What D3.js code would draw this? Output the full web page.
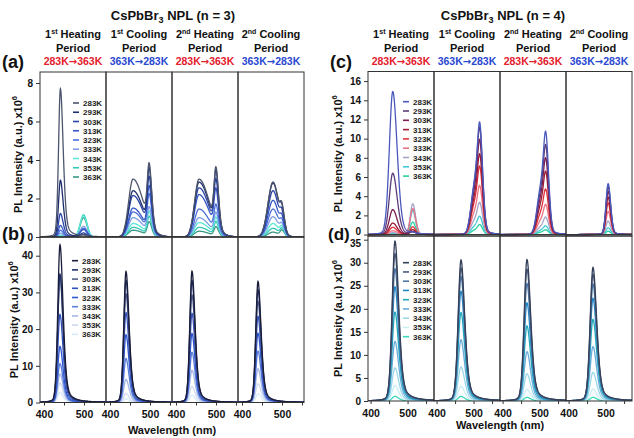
<!DOCTYPE html>
<html><head><meta charset="utf-8">
<script src="https://cdn.jsdelivr.net/npm/d3@7/dist/d3.min.js"></script>
<style>
body{margin:0;background:#fff}
svg{display:block}
text{font-family:"Liberation Sans",Arial,Helvetica,sans-serif;font-weight:bold;fill:#111}
</style></head>
<body><svg width="634" height="438"></svg>
<script>
// ---------- data ----------
const temps = ["283K","293K","303K","313K","323K","333K","343K","353K","363K"];
const periodNum = ["1","1","2","2"];
const periodSup = ["st","st","nd","nd"];
const periodName = [" Heating"," Cooling"," Heating"," Cooling"];
const rangeFrom = ["283K","363K","283K","363K"];
const rangeTo   = ["363K","283K","363K","283K"];
const xTickValues = [400,450,500,550];
const xTickLabels = [400,500];
const yTicksA = [0,2,4,6,8];
const yTicksB = [0,10,20,30,40];
const yTicksC = [0,2,4,6,8,10,12,14,16];
const yTicksD = [0,5,10,15,20,25,30,35];

// peak amplitudes (x10^6) per temperature
// (a) n=3, top row
const a1Main  = [7.7,2.95,1.22,0.6,0.35,0.2,0.1,0.06,0.03];   // ~441 nm
const a1Side  = [0.05,0.1,0.2,0.38,0.45,0.55,1.1,1.15,1.0];   // ~499 nm
const a2Broad = [3.0,2.4,2.15,1.5,1.3,1.0,0.7,0.5,0.35];      // ~457 nm
const a2Sharp = [3.0,2.95,2.55,2.25,1.9,1.3,1.15,0.95,0.7];   // ~498 nm
const a3Broad = [3.0,2.85,2.55,2.2,1.45,1.0,0.75,0.5,0.3];
const a3Sharp = [2.9,2.8,2.4,2.0,1.35,1.05,0.85,0.68,0.47];
const a4Broad = [2.85,2.8,2.4,1.9,1.45,1.05,0.7,0.45,0.25];   // ~477 nm
const a4Sharp = [1.0,0.95,0.8,0.65,0.55,0.45,0.4,0.35,0.3];   // ~500 nm
// (b) n=3, bottom row, ~440 nm
const b1 = [43,35,34.5,24,15.3,10.6,7.8,5.3,2.8];
const b2 = [35.7,33.3,29.6,24.5,18.5,12,6.3,2.5,1.0];
const b3 = [35.8,33.3,29.3,24.3,18.8,13.7,8.8,4.4,2.0];
const b4 = [33,30.8,27.6,23.5,18.9,14,9.2,5.1,2.4];
// (c) n=4, top row
const c1Main = [14.9,6.4,2.6,1.2,0.75,0.4,0.2,0.1,0.05];      // ~460 nm
const c1Side = [0.1,0.2,0.3,0.5,0.8,2.7,3.2,2.5,1.3];         // ~514 nm
const c2Main = [11.0,10.5,9.3,7.9,6.7,4.8,3.15,1.8,0.98];     // ~517 nm
const c2Sh   = [4.6,4.4,3.9,3.3,2.8,2.0,1.3,0.75,0.4];        // ~502 nm
const c3Main = [10.1,8.8,7.5,6.2,4.45,2.95,1.72,0.85,0.47];
const c3Sh   = [4.2,3.7,3.2,2.6,1.9,1.25,0.7,0.38,0.2];
const c4Main = [5.3,5.0,4.5,3.9,3.3,2.4,1.4,0.7,0.35];        // ~507 nm
// (d) n=4, bottom row, ~466 nm
const dPk1 = [34.7,32,28.7,24.8,19.3,12.9,7.2,3.4,1.0];
const dPk2 = [30.6,28.9,27,23.8,19.2,13.3,7.4,3.2,1.0];
const dPk3 = [30.7,28.6,25.5,21.3,16.3,10.7,5.9,2.5,0.8];
const dPk4 = [29,27.5,25.4,22.3,17.7,11.8,6.2,2.6,0.8];

// peak components: centre and half widths (nm), Lorentz fraction left/right
const compsA = [
  [{c:441,wl:5.5,wr:8.3,el:0.15,er:0.4,amps:a1Main},{c:499,wl:10,wr:10,el:0,er:0,amps:a1Side}],
  [{c:457.5,wl:13,wr:30,el:0,er:0,amps:a2Broad},{c:498,wl:5.5,wr:7.4,el:0.1,er:0.2,amps:a2Sharp}],
  [{c:457.5,wl:13,wr:30,el:0,er:0,amps:a3Broad},{c:500,wl:5.5,wr:7.4,el:0.1,er:0.2,amps:a3Sharp}],
  [{c:477.5,wl:14.7,wr:16.5,el:0,er:0,amps:a4Broad},{c:500,wl:5.5,wr:7.4,el:0.1,er:0.2,amps:a4Sharp}]
];
const compsB = [b1,b2,b3,b4].map(a=>[{c:440,wl:6.5,wr:9.2,el:0.15,er:0.45,amps:a}]);
const compsC = [
  [{c:460,wl:11,wr:14,el:0.1,er:0.2,amps:c1Main},{c:514,wl:8,wr:9,el:0,er:0.1,amps:c1Side}],
  [{c:517,wl:8,wr:9,el:0.1,er:0.2,amps:c2Main},{c:502,wl:11,wr:9,el:0,er:0,amps:c2Sh}],
  [{c:517,wl:8,wr:9,el:0.1,er:0.2,amps:c3Main},{c:502,wl:11,wr:9,el:0,er:0,amps:c3Sh}],
  [{c:507,wl:7,wr:8,el:0.1,er:0.2,amps:c4Main}]
];
const compsD = [dPk1,dPk2,dPk3,dPk4].map(a=>[{c:466,wl:9,wr:12,el:0.15,er:0.45,amps:a}]);

const colA = ["#4d566e","#1f2f6e","#2a44a6","#3457c6","#4b70d8","#7f9de6","#5ce8d6","#34c6b6","#3a9886"];
const colB = ["#1a1d3a","#22306a","#525f86","#3050c0","#2e56d0","#5a7ed8","#a6b6e6","#cfdaf0","#d6eafb"];
const colC = ["#4a58bc","#5c3c78","#7c1c52","#9c1c34","#e0323a","#e87484","#a4a4c8","#44c8d8","#26d2a2"];
const colD = ["#35405a","#4a5a78","#4a78a8","#1f88c8","#22a8b8","#6aaad8","#9ad8e8","#c8eef4","#3ad8b8"];

// ---------- drawing ----------
function shape(l,p){
  const left = l < p.c, w = left ? p.wl : p.wr, e = left ? p.el : p.er;
  const x = (l-p.c)/w;
  return (1-e)*Math.exp(-Math.LN2*x*x) + e/(1+x*x);
}
const svg = d3.select("svg");
const colW = 66;
const figs = [
  {x0:40, n:"3", xd:[390,555], titleX:173, wlX:172, wlY:434, tickPad:5, rows:[
    {top:72,bottom:237,yd:[0,8.57],ticks:yTicksA,comps:compsA,colors:colA,legX:73,legY:103,legDy:9.25,letter:"(a)",lx:2,ly:68,ls:18,ylx:22,nudge:{}},
    {top:237,bottom:402.5,yd:[0,45.1],ticks:yTicksB,comps:compsB,colors:colB,legX:72,legY:260.7,legDy:9.2,letter:"(b)",lx:2,ly:240,ls:18,ylx:18,nudge:{}}]},
  {x0:368, n:"4", xd:[393,571.5], titleX:503, wlX:500, wlY:428.5, tickPad:6, rows:[
    {top:71.5,bottom:236,yd:[-0.15,17.0],ticks:yTicksC,comps:compsC,colors:colC,legX:403,legY:101.7,legDy:9.3,letter:"(c)",lx:330,ly:68,ls:18,ylx:342,nudge:{0:-3}},
    {top:236,bottom:401,yd:[0,35.8],ticks:yTicksD,comps:compsD,colors:colD,legX:403,legY:262.7,legDy:9.25,letter:"(d)",lx:328,ly:240,ls:17,ylx:342,nudge:{35:3.4}}]}
];
let clipId = 0;
figs.forEach(f=>{
  const lambda = d3.range(f.xd[0], f.xd[1]+0.01, 0.5);
  const t = svg.append("text").attr("x",f.titleX).attr("y",20).attr("text-anchor","middle").style("font-size","13px");
  t.append("tspan").text("CsPbBr");
  t.append("tspan").text("3").style("font-size","9px").attr("dy",3);
  t.append("tspan").text(" NPL (n = "+f.n+")").attr("dy",-3);
  for(let k=0;k<4;k++){
    const cx = f.x0 + colW*k + colW/2;
    const h = svg.append("text").attr("x",cx).attr("y",37.5).attr("text-anchor","middle").style("font-size","11px");
    h.append("tspan").text(periodNum[k]);
    h.append("tspan").text(periodSup[k]).style("font-size","7px").attr("dy",-4);
    h.append("tspan").text(periodName[k]).attr("dy",4);
    svg.append("text").attr("x",cx).attr("y",51.5).attr("text-anchor","middle").style("font-size","11px").text("Period");
    const tr = svg.append("text").attr("x",cx).attr("y",65).attr("text-anchor","middle").style("font-size","10.5px")
      .style("fill", k%2===0 ? "#e4202c" : "#2a48d0");
    tr.append("tspan").text(rangeFrom[k]);
    tr.append("tspan").text("\u2192").style("font-family","'DejaVu Sans',sans-serif").style("font-size","10px");
    tr.append("tspan").text(rangeTo[k]);
  }
  f.rows.forEach((r,ri)=>{
    const y = d3.scaleLinear().domain(r.yd).range([r.bottom,r.top]);
    for(let k=0;k<4;k++){
      const x0 = f.x0 + colW*k;
      const x = d3.scaleLinear().domain(f.xd).range([x0,x0+colW]);
      const id = "clip"+(clipId++);
      svg.append("clipPath").attr("id",id).append("rect").attr("x",x0).attr("y",r.top).attr("width",colW).attr("height",r.bottom-r.top);
      const g = svg.append("g").attr("clip-path","url(#"+id+")");
      const line = d3.line().x(d=>x(d[0])).y(d=>y(d[1]));
      const comps = r.comps[k];
      for(let i=temps.length-1;i>=0;i--){
        const pts = lambda.map(l=>[l, d3.sum(comps, p=>p.amps[i]*shape(l,p))]);
        g.append("path").attr("d",line(pts)).attr("fill","none").attr("stroke",r.colors[i]).attr("stroke-width",1.3);
      }
      svg.append("rect").attr("x",x0).attr("y",r.top).attr("width",colW).attr("height",r.bottom-r.top)
        .attr("fill","none").attr("stroke","#333").attr("stroke-width",1);
      if(ri===1){
        const ax = svg.append("g").attr("transform","translate(0,"+r.bottom+")")
          .call(d3.axisBottom(x).tickValues(xTickValues).tickSize(3).tickPadding(f.tickPad)
          .tickFormat(d=>xTickLabels.includes(d)?d:""));
        ax.select(".domain").remove();
        ax.selectAll("line").attr("stroke","#333");
        ax.selectAll("text").style("font-size","10.5px").attr("fill","#111");
      }
    }
    if(ri===0){
      svg.append("line").attr("x1",f.x0).attr("x2",f.x0+4*colW).attr("y1",y(0)).attr("y2",y(0)).attr("stroke","#333");
    }
    const ay = svg.append("g").attr("transform","translate("+f.x0+",0)")
      .call(d3.axisLeft(y).tickValues(r.ticks).tickSize(4).tickPadding(3));
    ay.select(".domain").remove();
    ay.selectAll("line").attr("stroke","#333");
    ay.selectAll("text").style("font-size","10px").attr("fill","#111")
      .attr("transform", d => r.nudge[d] ? "translate(0,"+r.nudge[d]+")" : null);
    const cy = (r.top+r.bottom)/2;
    const yl = svg.append("text").attr("transform","translate("+r.ylx+","+cy+") rotate(-90)")
      .attr("text-anchor","middle").style("font-size","11px");
    yl.append("tspan").text("PL Intensity (a.u.) x10");
    yl.append("tspan").text("6").style("font-size","7.5px").attr("dy",-5);
    svg.append("text").attr("x",r.lx).attr("y",r.ly).style("font-size",r.ls+"px").text(r.letter);
    temps.forEach((tp,i)=>{
      const ly = r.legY + i*r.legDy;
      svg.append("line").attr("x1",r.legX).attr("x2",r.legX+6).attr("y1",ly).attr("y2",ly)
        .attr("stroke",r.colors[i]).attr("stroke-width",1.6);
      svg.append("text").attr("x",r.legX+10).attr("y",ly+3).style("font-size","8px").style("fill","#222").text(tp);
    });
  });
  svg.append("text").attr("x",f.wlX).attr("y",f.wlY).attr("text-anchor","middle").style("font-size","11px").text("Wavelength (nm)");
});
</script></body></html>
